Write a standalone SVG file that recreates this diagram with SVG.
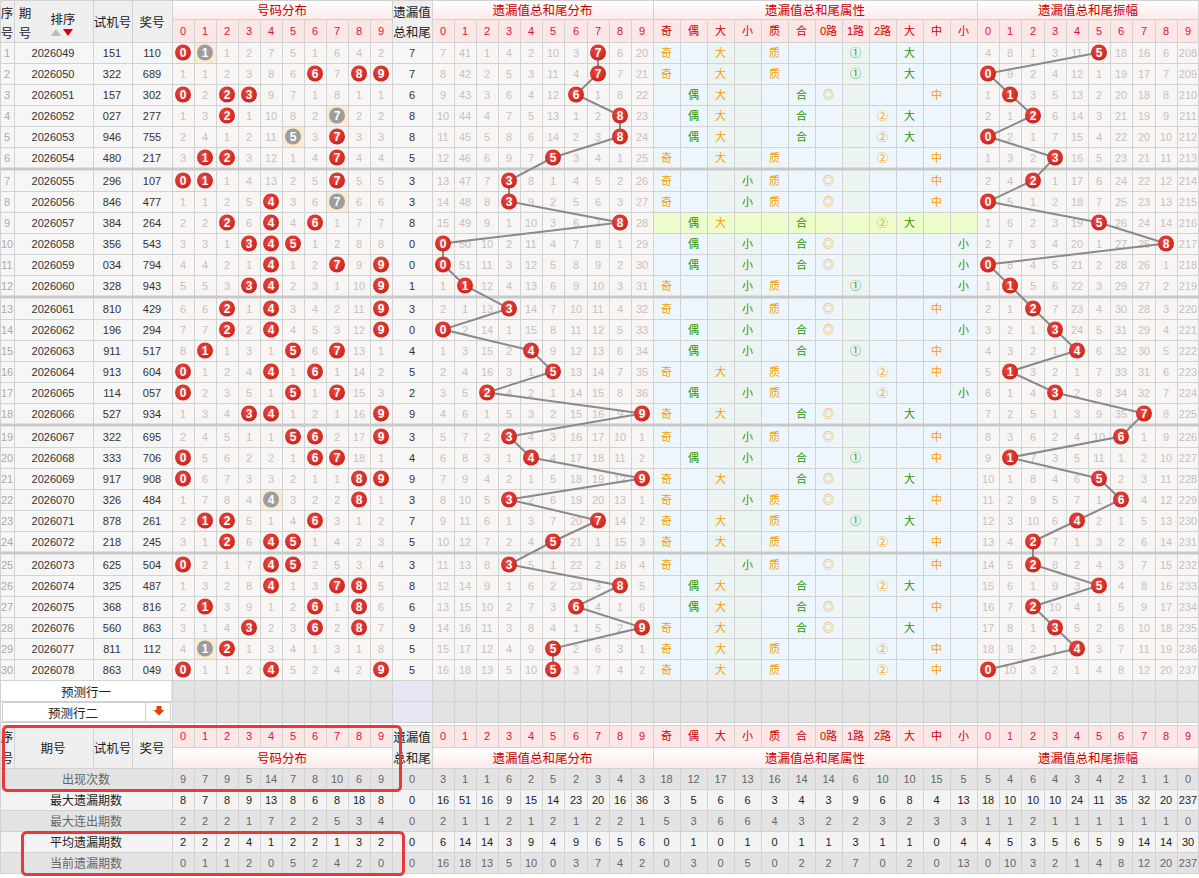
<svg xmlns="http://www.w3.org/2000/svg" xmlns:xlink="http://www.w3.org/1999/xlink" width="1199" height="878" viewBox="0 0 1199 878">
<style>
text{font-family:"Liberation Sans","Noto Sans CJK SC",sans-serif;font-size:11px;text-anchor:middle;dominant-baseline:central}
.c{font-family:"Noto Sans CJK SC",sans-serif;font-size:12px}
.h{fill:#cc0000;font-family:"Noto Sans CJK SC",sans-serif;font-size:12.5px}
.hd{fill:#e0103a;font-size:12px}
.k{fill:#222;font-family:"Noto Sans CJK SC",sans-serif;font-size:12.5px}
.s{fill:#aaa}
.m{fill:#cdbdbd}
.d{fill:#333}
.o{fill:#f5a000}
.g{fill:#2f9400}
.bt{fill:#fff;font-weight:bold;font-size:12px}
.rb{fill:url(#rg)}
.gb{fill:#9d9d9d}
.st1{fill:#666}
.st2{fill:#222}
.hl{fill:none;stroke:#e8383a;stroke-width:3}
.ln{fill:none;stroke:#8a8a8a;stroke-width:2}
.grid{fill:none;stroke:#d2d2d2;stroke-width:1}
.sep{fill:#c9c9c9}
</style>
<defs>
<linearGradient id="hg" x1="0" y1="0" x2="0" y2="1"><stop offset="0" stop-color="#ffffff"/><stop offset="1" stop-color="#fdeaea"/></linearGradient>
<radialGradient id="rg" cx="0.42" cy="0.38" r="0.7"><stop offset="0" stop-color="#ee4a3e"/><stop offset="1" stop-color="#c61f19"/></radialGradient>
<g id="B0"><circle r="8" class="rb"/><text class="bt">0</text></g>
<g id="B1"><circle r="8" class="rb"/><text class="bt">1</text></g>
<g id="B2"><circle r="8" class="rb"/><text class="bt">2</text></g>
<g id="B3"><circle r="8" class="rb"/><text class="bt">3</text></g>
<g id="B4"><circle r="8" class="rb"/><text class="bt">4</text></g>
<g id="B5"><circle r="8" class="rb"/><text class="bt">5</text></g>
<g id="B6"><circle r="8" class="rb"/><text class="bt">6</text></g>
<g id="B7"><circle r="8" class="rb"/><text class="bt">7</text></g>
<g id="B8"><circle r="8" class="rb"/><text class="bt">8</text></g>
<g id="B9"><circle r="8" class="rb"/><text class="bt">9</text></g>
<g id="G1"><circle r="8" class="gb"/><text class="bt">1</text></g>
<g id="G4"><circle r="8" class="gb"/><text class="bt">4</text></g>
<g id="G5"><circle r="8" class="gb"/><text class="bt">5</text></g>
<g id="G7"><circle r="8" class="gb"/><text class="bt">7</text></g>
<g id="a0" class="c"><text class="g" x="693.5">偶</text><text class="g" x="747.5">小</text><text class="g" x="801.5">合</text><text class="o" x="828.5">◎</text><text class="g" x="963.5">小</text></g>
<g id="a1" class="c"><text class="o" x="666.5">奇</text><text class="g" x="747.5">小</text><text class="o" x="774.5">质</text><text class="g" x="855.5">①</text><text class="g" x="963.5">小</text></g>
<g id="a2" class="c"><text class="g" x="693.5">偶</text><text class="g" x="747.5">小</text><text class="o" x="774.5">质</text><text class="o" x="882.5">②</text><text class="g" x="963.5">小</text></g>
<g id="a3" class="c"><text class="o" x="666.5">奇</text><text class="g" x="747.5">小</text><text class="o" x="774.5">质</text><text class="o" x="828.5">◎</text><text class="o" x="936.5">中</text></g>
<g id="a4" class="c"><text class="g" x="693.5">偶</text><text class="g" x="747.5">小</text><text class="g" x="801.5">合</text><text class="g" x="855.5">①</text><text class="o" x="936.5">中</text></g>
<g id="a5" class="c"><text class="o" x="666.5">奇</text><text class="o" x="720.5">大</text><text class="o" x="774.5">质</text><text class="o" x="882.5">②</text><text class="o" x="936.5">中</text></g>
<g id="a6" class="c"><text class="g" x="693.5">偶</text><text class="o" x="720.5">大</text><text class="g" x="801.5">合</text><text class="o" x="828.5">◎</text><text class="o" x="936.5">中</text></g>
<g id="a7" class="c"><text class="o" x="666.5">奇</text><text class="o" x="720.5">大</text><text class="o" x="774.5">质</text><text class="g" x="855.5">①</text><text class="g" x="909.5">大</text></g>
<g id="a8" class="c"><text class="g" x="693.5">偶</text><text class="o" x="720.5">大</text><text class="g" x="801.5">合</text><text class="o" x="882.5">②</text><text class="g" x="909.5">大</text></g>
<g id="a9" class="c"><text class="o" x="666.5">奇</text><text class="o" x="720.5">大</text><text class="g" x="801.5">合</text><text class="o" x="828.5">◎</text><text class="g" x="909.5">大</text></g>
</defs>
<rect width="1199" height="878" fill="#fff"/>
<g id="backgrounds">
<rect x="0" y="0" width="172" height="42" fill="#efefef"/>
<rect x="392" y="0" width="40" height="42" fill="#efefef"/>
<rect x="172" y="0" width="220" height="19" fill="url(#hg)"/>
<rect x="432" y="0" width="767" height="19" fill="url(#hg)"/>
<rect x="172" y="19" width="220" height="23" fill="#fce6e6"/>
<rect x="432" y="19" width="767" height="23" fill="#fce6e6"/>
<rect x="0" y="42" width="172" height="638" fill="#f6f6f6"/>
<rect x="172" y="42" width="220" height="638" fill="#f8f5f5"/>
<rect x="392" y="42" width="40" height="638" fill="#f6f6f6"/>
<rect x="432" y="42" width="221" height="638" fill="#f8f5f5"/>
<rect x="653" y="42" width="324" height="638" fill="#eef6fd"/>
<rect x="707" y="42" width="54" height="638" fill="#ebf4f2"/>
<rect x="842" y="42" width="27" height="638" fill="#ebf4f2"/>
<rect x="977" y="42" width="222" height="638" fill="#f8f5f5"/>
<rect x="653" y="212" width="324" height="21" fill="#edfccb"/>
<rect x="194" y="42" width="22" height="21" fill="#fcead3"/>
<rect x="326" y="105" width="22" height="21" fill="#fcead3"/>
<rect x="282" y="126" width="22" height="21" fill="#fcead3"/>
<rect x="326" y="191" width="22" height="21" fill="#fcead3"/>
<rect x="260" y="489" width="22" height="21" fill="#fcead3"/>
<rect x="194" y="638" width="22" height="21" fill="#fcead3"/>
<rect x="172" y="680" width="1027" height="42" fill="#e3e3e3"/>
<rect x="392" y="680" width="40" height="42" fill="#e5e5f6"/>
<rect x="0" y="725" width="172" height="43" fill="#efefef"/>
<rect x="392" y="725" width="40" height="43" fill="#efefef"/>
<rect x="172" y="725" width="220" height="22" fill="#fce6e6"/>
<rect x="432" y="725" width="767" height="22" fill="#fce6e6"/>
<rect x="172" y="747" width="220" height="21" fill="url(#hg)"/>
<rect x="432" y="747" width="767" height="21" fill="url(#hg)"/>
<rect x="0" y="768" width="1199" height="21" fill="#e3e3e3"/>
<rect x="0" y="789" width="1199" height="21" fill="#f3f3f3"/>
<rect x="0" y="810" width="1199" height="21" fill="#e3e3e3"/>
<rect x="0" y="831" width="1199" height="21" fill="#f3f3f3"/>
<rect x="0" y="852" width="1199" height="21" fill="#e3e3e3"/>
</g>
<path id="grid" class="grid" d="M0 .5H1199M0 42.5H1199M0 63.5H1199M0 84.5H1199M0 105.5H1199M0 126.5H1199M0 147.5H1199M0 191.5H1199M0 212.5H1199M0 233.5H1199M0 254.5H1199M0 275.5H1199M0 319.5H1199M0 340.5H1199M0 361.5H1199M0 382.5H1199M0 403.5H1199M0 447.5H1199M0 468.5H1199M0 489.5H1199M0 510.5H1199M0 531.5H1199M0 575.5H1199M0 596.5H1199M0 617.5H1199M0 638.5H1199M0 659.5H1199M0 680.5H1199M0 701.5H1199M0 722.5H1199M0 725.5H1199M0 768.5H1199M0 789.5H1199M0 810.5H1199M0 831.5H1199M0 852.5H1199M0 873.5H1199M172 19.5H392M432 19.5H1199M172 747.5H392M432 747.5H1199M.5 0V873M172.5 0V873M392.5 0V873M432.5 0V873M653.5 0V873M977.5 0V873M1198.5 0V873M14.5 0V680M93.5 0V680M132.5 0V680M14.5 725V768M93.5 725V768M132.5 725V768M194.5 19V747M194.5 768V873M216.5 19V747M216.5 768V873M238.5 19V747M238.5 768V873M260.5 19V747M260.5 768V873M282.5 19V747M282.5 768V873M304.5 19V747M304.5 768V873M326.5 19V747M326.5 768V873M348.5 19V747M348.5 768V873M370.5 19V747M370.5 768V873M454.5 19V747M454.5 768V873M476.5 19V747M476.5 768V873M498.5 19V747M498.5 768V873M520.5 19V747M520.5 768V873M542.5 19V747M542.5 768V873M564.5 19V747M564.5 768V873M587.5 19V747M587.5 768V873M609.5 19V747M609.5 768V873M631.5 19V747M631.5 768V873M680.5 19V747M680.5 768V873M707.5 19V747M707.5 768V873M734.5 19V747M734.5 768V873M761.5 19V747M761.5 768V873M788.5 19V747M788.5 768V873M815.5 19V747M815.5 768V873M842.5 19V747M842.5 768V873M869.5 19V747M869.5 768V873M896.5 19V747M896.5 768V873M923.5 19V747M923.5 768V873M950.5 19V747M950.5 768V873M999.5 19V747M999.5 768V873M1021.5 19V747M1021.5 768V873M1044.5 19V747M1044.5 768V873M1066.5 19V747M1066.5 768V873M1088.5 19V747M1088.5 768V873M1110.5 19V747M1110.5 768V873M1132.5 19V747M1132.5 768V873M1155.5 19V747M1155.5 768V873M1177.5 19V747M1177.5 768V873"/>
<g id="separators">
<rect class="sep" x="0" y="167.5" width="1199" height="3"/>
<rect class="sep" x="0" y="295.5" width="1199" height="3"/>
<rect class="sep" x="0" y="423.5" width="1199" height="3"/>
<rect class="sep" x="0" y="551.5" width="1199" height="3"/>
</g>
<g id="header">
<text class="k" x="7" y="12">序</text><text class="k" x="7" y="32">号</text>
<text class="k" x="25" y="12">期</text><text class="k" x="25" y="32">号</text>
<text class="k" x="63" y="18">排序</text>
<polygon points="51,36 61,36 56,29" fill="#bbb"/><polygon points="63,29 73,29 68,36" fill="#d00"/>
<text class="k" x="112.5" y="21">试机号</text><text class="k" x="152" y="21">奖号</text>
<text class="k" x="412" y="11">遗漏值</text><text class="k" x="412" y="31">总和尾</text>
<text class="h" x="282" y="9.5">号码分布</text>
<text class="h" x="542.5" y="9.5">遗漏值总和尾分布</text>
<text class="h" x="815" y="9.5">遗漏值总和尾属性</text>
<text class="h" x="1088" y="9.5">遗漏值总和尾振幅</text>
<g class="hd" transform="translate(0 30.5)"><text x="183">0</text><text x="205">1</text><text x="227">2</text><text x="249">3</text><text x="271">4</text><text x="293">5</text><text x="315">6</text><text x="337">7</text><text x="359">8</text><text x="381">9</text><text x="443">0</text><text x="465">1</text><text x="487">2</text><text x="509">3</text><text x="531">4</text><text x="553">5</text><text x="576">6</text><text x="598">7</text><text x="620">8</text><text x="642">9</text><text x="988">0</text><text x="1010">1</text><text x="1033">2</text><text x="1055">3</text><text x="1077">4</text><text x="1099">5</text><text x="1121">6</text><text x="1144">7</text><text x="1166">8</text><text x="1188">9</text></g>
<g class="h" transform="translate(0 30.5)"><text x="666.5">奇</text><text x="693.5">偶</text><text x="720.5">大</text><text x="747.5">小</text><text x="774.5">质</text><text x="801.5">合</text><text x="828.5">0路</text><text x="855.5">1路</text><text x="882.5">2路</text><text x="909.5">大</text><text x="936.5">中</text><text x="963.5">小</text></g>
</g>
<g id="rows">
<g id="r1" transform="translate(0 52.5)"><text class="s" x="7">1</text><text class="d" x="53">2026049</text><text class="d" x="112">151</text><text class="d" x="152">110</text><text class="d" x="412">7</text><g class="m"><text x="227">1</text><text x="249">2</text><text x="271">7</text><text x="293">5</text><text x="315">1</text><text x="337">6</text><text x="359">4</text><text x="381">2</text><text x="443">7</text><text x="465">41</text><text x="487">1</text><text x="509">4</text><text x="531">2</text><text x="553">10</text><text x="576">3</text><text x="620">6</text><text x="642">20</text><text x="988">4</text><text x="1010">8</text><text x="1033">1</text><text x="1055">3</text><text x="1077">11</text><text x="1121">18</text><text x="1144">16</text><text x="1166">6</text><text x="1188">208</text></g><use href="#a7"/></g>
<g id="r2" transform="translate(0 73.5)"><text class="s" x="7">2</text><text class="d" x="53">2026050</text><text class="d" x="112">322</text><text class="d" x="152">689</text><text class="d" x="412">7</text><g class="m"><text x="183">1</text><text x="205">1</text><text x="227">2</text><text x="249">3</text><text x="271">8</text><text x="293">6</text><text x="337">7</text><text x="443">8</text><text x="465">42</text><text x="487">2</text><text x="509">5</text><text x="531">3</text><text x="553">11</text><text x="576">4</text><text x="620">7</text><text x="642">21</text><text x="1010">9</text><text x="1033">2</text><text x="1055">4</text><text x="1077">12</text><text x="1099">1</text><text x="1121">19</text><text x="1144">17</text><text x="1166">7</text><text x="1188">209</text></g><use href="#a7"/></g>
<g id="r3" transform="translate(0 94.5)"><text class="s" x="7">3</text><text class="d" x="53">2026051</text><text class="d" x="112">157</text><text class="d" x="152">302</text><text class="d" x="412">6</text><g class="m"><text x="205">2</text><text x="271">9</text><text x="293">7</text><text x="315">1</text><text x="337">8</text><text x="359">1</text><text x="381">1</text><text x="443">9</text><text x="465">43</text><text x="487">3</text><text x="509">6</text><text x="531">4</text><text x="553">12</text><text x="598">1</text><text x="620">8</text><text x="642">22</text><text x="988">1</text><text x="1033">3</text><text x="1055">5</text><text x="1077">13</text><text x="1099">2</text><text x="1121">20</text><text x="1144">18</text><text x="1166">8</text><text x="1188">210</text></g><use href="#a6"/></g>
<g id="r4" transform="translate(0 115.5)"><text class="s" x="7">4</text><text class="d" x="53">2026052</text><text class="d" x="112">027</text><text class="d" x="152">277</text><text class="d" x="412">8</text><g class="m"><text x="183">1</text><text x="205">3</text><text x="249">1</text><text x="271">10</text><text x="293">8</text><text x="315">2</text><text x="359">2</text><text x="381">2</text><text x="443">10</text><text x="465">44</text><text x="487">4</text><text x="509">7</text><text x="531">5</text><text x="553">13</text><text x="576">1</text><text x="598">2</text><text x="642">23</text><text x="988">2</text><text x="1010">1</text><text x="1055">6</text><text x="1077">14</text><text x="1099">3</text><text x="1121">21</text><text x="1144">19</text><text x="1166">9</text><text x="1188">211</text></g><use href="#a8"/></g>
<g id="r5" transform="translate(0 136.5)"><text class="s" x="7">5</text><text class="d" x="53">2026053</text><text class="d" x="112">946</text><text class="d" x="152">755</text><text class="d" x="412">8</text><g class="m"><text x="183">2</text><text x="205">4</text><text x="227">1</text><text x="249">2</text><text x="271">11</text><text x="315">3</text><text x="359">3</text><text x="381">3</text><text x="443">11</text><text x="465">45</text><text x="487">5</text><text x="509">8</text><text x="531">6</text><text x="553">14</text><text x="576">2</text><text x="598">3</text><text x="642">24</text><text x="1010">2</text><text x="1033">1</text><text x="1055">7</text><text x="1077">15</text><text x="1099">4</text><text x="1121">22</text><text x="1144">20</text><text x="1166">10</text><text x="1188">212</text></g><use href="#a8"/></g>
<g id="r6" transform="translate(0 157.5)"><text class="s" x="7">6</text><text class="d" x="53">2026054</text><text class="d" x="112">480</text><text class="d" x="152">217</text><text class="d" x="412">5</text><g class="m"><text x="183">3</text><text x="249">3</text><text x="271">12</text><text x="293">1</text><text x="315">4</text><text x="359">4</text><text x="381">4</text><text x="443">12</text><text x="465">46</text><text x="487">6</text><text x="509">9</text><text x="531">7</text><text x="576">3</text><text x="598">4</text><text x="620">1</text><text x="642">25</text><text x="988">1</text><text x="1010">3</text><text x="1033">2</text><text x="1077">16</text><text x="1099">5</text><text x="1121">23</text><text x="1144">21</text><text x="1166">11</text><text x="1188">213</text></g><use href="#a5"/></g>
<g id="r7" transform="translate(0 180.5)"><text class="s" x="7">7</text><text class="d" x="53">2026055</text><text class="d" x="112">296</text><text class="d" x="152">107</text><text class="d" x="412">3</text><g class="m"><text x="227">1</text><text x="249">4</text><text x="271">13</text><text x="293">2</text><text x="315">5</text><text x="359">5</text><text x="381">5</text><text x="443">13</text><text x="465">47</text><text x="487">7</text><text x="531">8</text><text x="553">1</text><text x="576">4</text><text x="598">5</text><text x="620">2</text><text x="642">26</text><text x="988">2</text><text x="1010">4</text><text x="1055">1</text><text x="1077">17</text><text x="1099">6</text><text x="1121">24</text><text x="1144">22</text><text x="1166">12</text><text x="1188">214</text></g><use href="#a3"/></g>
<g id="r8" transform="translate(0 201.5)"><text class="s" x="7">8</text><text class="d" x="53">2026056</text><text class="d" x="112">846</text><text class="d" x="152">477</text><text class="d" x="412">3</text><g class="m"><text x="183">1</text><text x="205">1</text><text x="227">2</text><text x="249">5</text><text x="293">3</text><text x="315">6</text><text x="359">6</text><text x="381">6</text><text x="443">14</text><text x="465">48</text><text x="487">8</text><text x="531">9</text><text x="553">2</text><text x="576">5</text><text x="598">6</text><text x="620">3</text><text x="642">27</text><text x="1010">5</text><text x="1033">1</text><text x="1055">2</text><text x="1077">18</text><text x="1099">7</text><text x="1121">25</text><text x="1144">23</text><text x="1166">13</text><text x="1188">215</text></g><use href="#a3"/></g>
<g id="r9" transform="translate(0 222.5)"><text class="s" x="7">9</text><text class="d" x="53">2026057</text><text class="d" x="112">384</text><text class="d" x="152">264</text><text class="d" x="412">8</text><g class="m"><text x="183">2</text><text x="205">2</text><text x="249">6</text><text x="293">4</text><text x="337">1</text><text x="359">7</text><text x="381">7</text><text x="443">15</text><text x="465">49</text><text x="487">9</text><text x="509">1</text><text x="531">10</text><text x="553">3</text><text x="576">6</text><text x="598">7</text><text x="642">28</text><text x="988">1</text><text x="1010">6</text><text x="1033">2</text><text x="1055">3</text><text x="1077">19</text><text x="1121">26</text><text x="1144">24</text><text x="1166">14</text><text x="1188">216</text></g><use href="#a8"/></g>
<g id="r10" transform="translate(0 243.5)"><text class="s" x="7">10</text><text class="d" x="53">2026058</text><text class="d" x="112">356</text><text class="d" x="152">543</text><text class="d" x="412">0</text><g class="m"><text x="183">3</text><text x="205">3</text><text x="227">1</text><text x="315">1</text><text x="337">2</text><text x="359">8</text><text x="381">8</text><text x="465">50</text><text x="487">10</text><text x="509">2</text><text x="531">11</text><text x="553">4</text><text x="576">7</text><text x="598">8</text><text x="620">1</text><text x="642">29</text><text x="988">2</text><text x="1010">7</text><text x="1033">3</text><text x="1055">4</text><text x="1077">20</text><text x="1099">1</text><text x="1121">27</text><text x="1144">25</text><text x="1188">217</text></g><use href="#a0"/></g>
<g id="r11" transform="translate(0 264.5)"><text class="s" x="7">11</text><text class="d" x="53">2026059</text><text class="d" x="112">034</text><text class="d" x="152">794</text><text class="d" x="412">0</text><g class="m"><text x="183">4</text><text x="205">4</text><text x="227">2</text><text x="249">1</text><text x="293">1</text><text x="315">2</text><text x="359">9</text><text x="465">51</text><text x="487">11</text><text x="509">3</text><text x="531">12</text><text x="553">5</text><text x="576">8</text><text x="598">9</text><text x="620">2</text><text x="642">30</text><text x="1010">8</text><text x="1033">4</text><text x="1055">5</text><text x="1077">21</text><text x="1099">2</text><text x="1121">28</text><text x="1144">26</text><text x="1166">1</text><text x="1188">218</text></g><use href="#a0"/></g>
<g id="r12" transform="translate(0 285.5)"><text class="s" x="7">12</text><text class="d" x="53">2026060</text><text class="d" x="112">328</text><text class="d" x="152">943</text><text class="d" x="412">1</text><g class="m"><text x="183">5</text><text x="205">5</text><text x="227">3</text><text x="293">2</text><text x="315">3</text><text x="337">1</text><text x="359">10</text><text x="443">1</text><text x="487">12</text><text x="509">4</text><text x="531">13</text><text x="553">6</text><text x="576">9</text><text x="598">10</text><text x="620">3</text><text x="642">31</text><text x="988">1</text><text x="1033">5</text><text x="1055">6</text><text x="1077">22</text><text x="1099">3</text><text x="1121">29</text><text x="1144">27</text><text x="1166">2</text><text x="1188">219</text></g><use href="#a1"/></g>
<g id="r13" transform="translate(0 308.5)"><text class="s" x="7">13</text><text class="d" x="53">2026061</text><text class="d" x="112">810</text><text class="d" x="152">429</text><text class="d" x="412">3</text><g class="m"><text x="183">6</text><text x="205">6</text><text x="249">1</text><text x="293">3</text><text x="315">4</text><text x="337">2</text><text x="359">11</text><text x="443">2</text><text x="465">1</text><text x="487">13</text><text x="531">14</text><text x="553">7</text><text x="576">10</text><text x="598">11</text><text x="620">4</text><text x="642">32</text><text x="988">2</text><text x="1010">1</text><text x="1055">7</text><text x="1077">23</text><text x="1099">4</text><text x="1121">30</text><text x="1144">28</text><text x="1166">3</text><text x="1188">220</text></g><use href="#a3"/></g>
<g id="r14" transform="translate(0 329.5)"><text class="s" x="7">14</text><text class="d" x="53">2026062</text><text class="d" x="112">196</text><text class="d" x="152">294</text><text class="d" x="412">0</text><g class="m"><text x="183">7</text><text x="205">7</text><text x="249">2</text><text x="293">4</text><text x="315">5</text><text x="337">3</text><text x="359">12</text><text x="465">2</text><text x="487">14</text><text x="509">1</text><text x="531">15</text><text x="553">8</text><text x="576">11</text><text x="598">12</text><text x="620">5</text><text x="642">33</text><text x="988">3</text><text x="1010">2</text><text x="1033">1</text><text x="1077">24</text><text x="1099">5</text><text x="1121">31</text><text x="1144">29</text><text x="1166">4</text><text x="1188">221</text></g><use href="#a0"/></g>
<g id="r15" transform="translate(0 350.5)"><text class="s" x="7">15</text><text class="d" x="53">2026063</text><text class="d" x="112">911</text><text class="d" x="152">517</text><text class="d" x="412">4</text><g class="m"><text x="183">8</text><text x="227">1</text><text x="249">3</text><text x="271">1</text><text x="315">6</text><text x="359">13</text><text x="381">1</text><text x="443">1</text><text x="465">3</text><text x="487">15</text><text x="509">2</text><text x="553">9</text><text x="576">12</text><text x="598">13</text><text x="620">6</text><text x="642">34</text><text x="988">4</text><text x="1010">3</text><text x="1033">2</text><text x="1055">1</text><text x="1099">6</text><text x="1121">32</text><text x="1144">30</text><text x="1166">5</text><text x="1188">222</text></g><use href="#a4"/></g>
<g id="r16" transform="translate(0 371.5)"><text class="s" x="7">16</text><text class="d" x="53">2026064</text><text class="d" x="112">913</text><text class="d" x="152">604</text><text class="d" x="412">5</text><g class="m"><text x="205">1</text><text x="227">2</text><text x="249">4</text><text x="293">1</text><text x="337">1</text><text x="359">14</text><text x="381">2</text><text x="443">2</text><text x="465">4</text><text x="487">16</text><text x="509">3</text><text x="531">1</text><text x="576">13</text><text x="598">14</text><text x="620">7</text><text x="642">35</text><text x="988">5</text><text x="1033">3</text><text x="1055">2</text><text x="1077">1</text><text x="1099">7</text><text x="1121">33</text><text x="1144">31</text><text x="1166">6</text><text x="1188">223</text></g><use href="#a5"/></g>
<g id="r17" transform="translate(0 392.5)"><text class="s" x="7">17</text><text class="d" x="53">2026065</text><text class="d" x="112">114</text><text class="d" x="152">057</text><text class="d" x="412">2</text><g class="m"><text x="205">2</text><text x="227">3</text><text x="249">5</text><text x="271">1</text><text x="315">1</text><text x="359">15</text><text x="381">3</text><text x="443">3</text><text x="465">5</text><text x="509">4</text><text x="531">2</text><text x="553">1</text><text x="576">14</text><text x="598">15</text><text x="620">8</text><text x="642">36</text><text x="988">6</text><text x="1010">1</text><text x="1033">4</text><text x="1077">2</text><text x="1099">8</text><text x="1121">34</text><text x="1144">32</text><text x="1166">7</text><text x="1188">224</text></g><use href="#a2"/></g>
<g id="r18" transform="translate(0 413.5)"><text class="s" x="7">18</text><text class="d" x="53">2026066</text><text class="d" x="112">527</text><text class="d" x="152">934</text><text class="d" x="412">9</text><g class="m"><text x="183">1</text><text x="205">3</text><text x="227">4</text><text x="293">1</text><text x="315">2</text><text x="337">1</text><text x="359">16</text><text x="443">4</text><text x="465">6</text><text x="487">1</text><text x="509">5</text><text x="531">3</text><text x="553">2</text><text x="576">15</text><text x="598">16</text><text x="620">9</text><text x="988">7</text><text x="1010">2</text><text x="1033">5</text><text x="1055">1</text><text x="1077">3</text><text x="1099">9</text><text x="1121">35</text><text x="1166">8</text><text x="1188">225</text></g><use href="#a9"/></g>
<g id="r19" transform="translate(0 436.5)"><text class="s" x="7">19</text><text class="d" x="53">2026067</text><text class="d" x="112">322</text><text class="d" x="152">695</text><text class="d" x="412">3</text><g class="m"><text x="183">2</text><text x="205">4</text><text x="227">5</text><text x="249">1</text><text x="271">1</text><text x="337">2</text><text x="359">17</text><text x="443">5</text><text x="465">7</text><text x="487">2</text><text x="531">4</text><text x="553">3</text><text x="576">16</text><text x="598">17</text><text x="620">10</text><text x="642">1</text><text x="988">8</text><text x="1010">3</text><text x="1033">6</text><text x="1055">2</text><text x="1077">4</text><text x="1099">10</text><text x="1144">1</text><text x="1166">9</text><text x="1188">226</text></g><use href="#a3"/></g>
<g id="r20" transform="translate(0 457.5)"><text class="s" x="7">20</text><text class="d" x="53">2026068</text><text class="d" x="112">333</text><text class="d" x="152">706</text><text class="d" x="412">4</text><g class="m"><text x="205">5</text><text x="227">6</text><text x="249">2</text><text x="271">2</text><text x="293">1</text><text x="359">18</text><text x="381">1</text><text x="443">6</text><text x="465">8</text><text x="487">3</text><text x="509">1</text><text x="553">4</text><text x="576">17</text><text x="598">18</text><text x="620">11</text><text x="642">2</text><text x="988">9</text><text x="1033">7</text><text x="1055">3</text><text x="1077">5</text><text x="1099">11</text><text x="1121">1</text><text x="1144">2</text><text x="1166">10</text><text x="1188">227</text></g><use href="#a4"/></g>
<g id="r21" transform="translate(0 478.5)"><text class="s" x="7">21</text><text class="d" x="53">2026069</text><text class="d" x="112">917</text><text class="d" x="152">908</text><text class="d" x="412">9</text><g class="m"><text x="205">6</text><text x="227">7</text><text x="249">3</text><text x="271">3</text><text x="293">2</text><text x="315">1</text><text x="337">1</text><text x="443">7</text><text x="465">9</text><text x="487">4</text><text x="509">2</text><text x="531">1</text><text x="553">5</text><text x="576">18</text><text x="598">19</text><text x="620">12</text><text x="988">10</text><text x="1010">1</text><text x="1033">8</text><text x="1055">4</text><text x="1077">6</text><text x="1121">2</text><text x="1144">3</text><text x="1166">11</text><text x="1188">228</text></g><use href="#a9"/></g>
<g id="r22" transform="translate(0 499.5)"><text class="s" x="7">22</text><text class="d" x="53">2026070</text><text class="d" x="112">326</text><text class="d" x="152">484</text><text class="d" x="412">3</text><g class="m"><text x="183">1</text><text x="205">7</text><text x="227">8</text><text x="249">4</text><text x="293">3</text><text x="315">2</text><text x="337">2</text><text x="381">1</text><text x="443">8</text><text x="465">10</text><text x="487">5</text><text x="531">2</text><text x="553">6</text><text x="576">19</text><text x="598">20</text><text x="620">13</text><text x="642">1</text><text x="988">11</text><text x="1010">2</text><text x="1033">9</text><text x="1055">5</text><text x="1077">7</text><text x="1099">1</text><text x="1144">4</text><text x="1166">12</text><text x="1188">229</text></g><use href="#a3"/></g>
<g id="r23" transform="translate(0 520.5)"><text class="s" x="7">23</text><text class="d" x="53">2026071</text><text class="d" x="112">878</text><text class="d" x="152">261</text><text class="d" x="412">7</text><g class="m"><text x="183">2</text><text x="249">5</text><text x="271">1</text><text x="293">4</text><text x="337">3</text><text x="359">1</text><text x="381">2</text><text x="443">9</text><text x="465">11</text><text x="487">6</text><text x="509">1</text><text x="531">3</text><text x="553">7</text><text x="576">20</text><text x="620">14</text><text x="642">2</text><text x="988">12</text><text x="1010">3</text><text x="1033">10</text><text x="1055">6</text><text x="1099">2</text><text x="1121">1</text><text x="1144">5</text><text x="1166">13</text><text x="1188">230</text></g><use href="#a7"/></g>
<g id="r24" transform="translate(0 541.5)"><text class="s" x="7">24</text><text class="d" x="53">2026072</text><text class="d" x="112">218</text><text class="d" x="152">245</text><text class="d" x="412">5</text><g class="m"><text x="183">3</text><text x="205">1</text><text x="249">6</text><text x="315">1</text><text x="337">4</text><text x="359">2</text><text x="381">3</text><text x="443">10</text><text x="465">12</text><text x="487">7</text><text x="509">2</text><text x="531">4</text><text x="576">21</text><text x="598">1</text><text x="620">15</text><text x="642">3</text><text x="988">13</text><text x="1010">4</text><text x="1055">7</text><text x="1077">1</text><text x="1099">3</text><text x="1121">2</text><text x="1144">6</text><text x="1166">14</text><text x="1188">231</text></g><use href="#a5"/></g>
<g id="r25" transform="translate(0 564.5)"><text class="s" x="7">25</text><text class="d" x="53">2026073</text><text class="d" x="112">625</text><text class="d" x="152">504</text><text class="d" x="412">3</text><g class="m"><text x="205">2</text><text x="227">1</text><text x="249">7</text><text x="315">2</text><text x="337">5</text><text x="359">3</text><text x="381">4</text><text x="443">11</text><text x="465">13</text><text x="487">8</text><text x="531">5</text><text x="553">1</text><text x="576">22</text><text x="598">2</text><text x="620">16</text><text x="642">4</text><text x="988">14</text><text x="1010">5</text><text x="1055">8</text><text x="1077">2</text><text x="1099">4</text><text x="1121">3</text><text x="1144">7</text><text x="1166">15</text><text x="1188">232</text></g><use href="#a3"/></g>
<g id="r26" transform="translate(0 585.5)"><text class="s" x="7">26</text><text class="d" x="53">2026074</text><text class="d" x="112">325</text><text class="d" x="152">487</text><text class="d" x="412">8</text><g class="m"><text x="183">1</text><text x="205">3</text><text x="227">2</text><text x="249">8</text><text x="293">1</text><text x="315">3</text><text x="381">5</text><text x="443">12</text><text x="465">14</text><text x="487">9</text><text x="509">1</text><text x="531">6</text><text x="553">2</text><text x="576">23</text><text x="598">3</text><text x="642">5</text><text x="988">15</text><text x="1010">6</text><text x="1033">1</text><text x="1055">9</text><text x="1077">3</text><text x="1121">4</text><text x="1144">8</text><text x="1166">16</text><text x="1188">233</text></g><use href="#a8"/></g>
<g id="r27" transform="translate(0 606.5)"><text class="s" x="7">27</text><text class="d" x="53">2026075</text><text class="d" x="112">368</text><text class="d" x="152">816</text><text class="d" x="412">6</text><g class="m"><text x="183">2</text><text x="227">3</text><text x="249">9</text><text x="271">1</text><text x="293">2</text><text x="337">1</text><text x="381">6</text><text x="443">13</text><text x="465">15</text><text x="487">10</text><text x="509">2</text><text x="531">7</text><text x="553">3</text><text x="598">4</text><text x="620">1</text><text x="642">6</text><text x="988">16</text><text x="1010">7</text><text x="1055">10</text><text x="1077">4</text><text x="1099">1</text><text x="1121">5</text><text x="1144">9</text><text x="1166">17</text><text x="1188">234</text></g><use href="#a6"/></g>
<g id="r28" transform="translate(0 627.5)"><text class="s" x="7">28</text><text class="d" x="53">2026076</text><text class="d" x="112">560</text><text class="d" x="152">863</text><text class="d" x="412">9</text><g class="m"><text x="183">3</text><text x="205">1</text><text x="227">4</text><text x="271">2</text><text x="293">3</text><text x="337">2</text><text x="381">7</text><text x="443">14</text><text x="465">16</text><text x="487">11</text><text x="509">3</text><text x="531">8</text><text x="553">4</text><text x="576">1</text><text x="598">5</text><text x="620">2</text><text x="988">17</text><text x="1010">8</text><text x="1033">1</text><text x="1077">5</text><text x="1099">2</text><text x="1121">6</text><text x="1144">10</text><text x="1166">18</text><text x="1188">235</text></g><use href="#a9"/></g>
<g id="r29" transform="translate(0 648.5)"><text class="s" x="7">29</text><text class="d" x="53">2026077</text><text class="d" x="112">811</text><text class="d" x="152">112</text><text class="d" x="412">5</text><g class="m"><text x="183">4</text><text x="249">1</text><text x="271">3</text><text x="293">4</text><text x="315">1</text><text x="337">3</text><text x="359">1</text><text x="381">8</text><text x="443">15</text><text x="465">17</text><text x="487">12</text><text x="509">4</text><text x="531">9</text><text x="576">2</text><text x="598">6</text><text x="620">3</text><text x="642">1</text><text x="988">18</text><text x="1010">9</text><text x="1033">2</text><text x="1055">1</text><text x="1099">3</text><text x="1121">7</text><text x="1144">11</text><text x="1166">19</text><text x="1188">236</text></g><use href="#a5"/></g>
<g id="r30" transform="translate(0 669.5)"><text class="s" x="7">30</text><text class="d" x="53">2026078</text><text class="d" x="112">863</text><text class="d" x="152">049</text><text class="d" x="412">5</text><g class="m"><text x="205">1</text><text x="227">1</text><text x="249">2</text><text x="293">5</text><text x="315">2</text><text x="337">4</text><text x="359">2</text><text x="443">16</text><text x="465">18</text><text x="487">13</text><text x="509">5</text><text x="531">10</text><text x="576">3</text><text x="598">7</text><text x="620">4</text><text x="642">2</text><text x="1010">10</text><text x="1033">3</text><text x="1055">2</text><text x="1077">1</text><text x="1099">4</text><text x="1121">8</text><text x="1144">12</text><text x="1166">20</text><text x="1188">237</text></g><use href="#a5"/></g>
</g>
<g id="connectors">
<polyline class="ln" points="598,52.5 598,73.5 576,94.5 620,115.5 620,136.5 553,157.5 509,180.5 509,201.5 620,222.5 443,243.5 443,264.5 465,285.5 509,308.5 443,329.5 531,350.5 553,371.5 487,392.5 642,413.5 509,436.5 531,457.5 642,478.5 509,499.5 598,520.5 553,541.5 509,564.5 620,585.5 576,606.5 642,627.5 553,648.5 553,669.5"/>
<polyline class="ln" points="1099,52.5 988,73.5 1010,94.5 1033,115.5 988,136.5 1055,157.5 1033,180.5 988,201.5 1099,222.5 1166,243.5 988,264.5 1010,285.5 1033,308.5 1055,329.5 1077,350.5 1010,371.5 1055,392.5 1144,413.5 1121,436.5 1010,457.5 1099,478.5 1121,499.5 1077,520.5 1033,541.5 1033,564.5 1099,585.5 1033,606.5 1055,627.5 1077,648.5 988,669.5"/>
</g>
<g id="balls">
<g id="b1" transform="translate(0 52.5)"><use href="#B0" x="183"/><use href="#G1" x="205"/><use href="#B7" x="598"/><use href="#B5" x="1099"/></g>
<g id="b2" transform="translate(0 73.5)"><use href="#B6" x="315"/><use href="#B8" x="359"/><use href="#B9" x="381"/><use href="#B7" x="598"/><use href="#B0" x="988"/></g>
<g id="b3" transform="translate(0 94.5)"><use href="#B0" x="183"/><use href="#B2" x="227"/><use href="#B3" x="249"/><use href="#B6" x="576"/><use href="#B1" x="1010"/></g>
<g id="b4" transform="translate(0 115.5)"><use href="#B2" x="227"/><use href="#G7" x="337"/><use href="#B8" x="620"/><use href="#B2" x="1033"/></g>
<g id="b5" transform="translate(0 136.5)"><use href="#G5" x="293"/><use href="#B7" x="337"/><use href="#B8" x="620"/><use href="#B0" x="988"/></g>
<g id="b6" transform="translate(0 157.5)"><use href="#B1" x="205"/><use href="#B2" x="227"/><use href="#B7" x="337"/><use href="#B5" x="553"/><use href="#B3" x="1055"/></g>
<g id="b7" transform="translate(0 180.5)"><use href="#B0" x="183"/><use href="#B1" x="205"/><use href="#B7" x="337"/><use href="#B3" x="509"/><use href="#B2" x="1033"/></g>
<g id="b8" transform="translate(0 201.5)"><use href="#B4" x="271"/><use href="#G7" x="337"/><use href="#B3" x="509"/><use href="#B0" x="988"/></g>
<g id="b9" transform="translate(0 222.5)"><use href="#B2" x="227"/><use href="#B4" x="271"/><use href="#B6" x="315"/><use href="#B8" x="620"/><use href="#B5" x="1099"/></g>
<g id="b10" transform="translate(0 243.5)"><use href="#B3" x="249"/><use href="#B4" x="271"/><use href="#B5" x="293"/><use href="#B0" x="443"/><use href="#B8" x="1166"/></g>
<g id="b11" transform="translate(0 264.5)"><use href="#B4" x="271"/><use href="#B7" x="337"/><use href="#B9" x="381"/><use href="#B0" x="443"/><use href="#B0" x="988"/></g>
<g id="b12" transform="translate(0 285.5)"><use href="#B3" x="249"/><use href="#B4" x="271"/><use href="#B9" x="381"/><use href="#B1" x="465"/><use href="#B1" x="1010"/></g>
<g id="b13" transform="translate(0 308.5)"><use href="#B2" x="227"/><use href="#B4" x="271"/><use href="#B9" x="381"/><use href="#B3" x="509"/><use href="#B2" x="1033"/></g>
<g id="b14" transform="translate(0 329.5)"><use href="#B2" x="227"/><use href="#B4" x="271"/><use href="#B9" x="381"/><use href="#B0" x="443"/><use href="#B3" x="1055"/></g>
<g id="b15" transform="translate(0 350.5)"><use href="#B1" x="205"/><use href="#B5" x="293"/><use href="#B7" x="337"/><use href="#B4" x="531"/><use href="#B4" x="1077"/></g>
<g id="b16" transform="translate(0 371.5)"><use href="#B0" x="183"/><use href="#B4" x="271"/><use href="#B6" x="315"/><use href="#B5" x="553"/><use href="#B1" x="1010"/></g>
<g id="b17" transform="translate(0 392.5)"><use href="#B0" x="183"/><use href="#B5" x="293"/><use href="#B7" x="337"/><use href="#B2" x="487"/><use href="#B3" x="1055"/></g>
<g id="b18" transform="translate(0 413.5)"><use href="#B3" x="249"/><use href="#B4" x="271"/><use href="#B9" x="381"/><use href="#B9" x="642"/><use href="#B7" x="1144"/></g>
<g id="b19" transform="translate(0 436.5)"><use href="#B5" x="293"/><use href="#B6" x="315"/><use href="#B9" x="381"/><use href="#B3" x="509"/><use href="#B6" x="1121"/></g>
<g id="b20" transform="translate(0 457.5)"><use href="#B0" x="183"/><use href="#B6" x="315"/><use href="#B7" x="337"/><use href="#B4" x="531"/><use href="#B1" x="1010"/></g>
<g id="b21" transform="translate(0 478.5)"><use href="#B0" x="183"/><use href="#B8" x="359"/><use href="#B9" x="381"/><use href="#B9" x="642"/><use href="#B5" x="1099"/></g>
<g id="b22" transform="translate(0 499.5)"><use href="#G4" x="271"/><use href="#B8" x="359"/><use href="#B3" x="509"/><use href="#B6" x="1121"/></g>
<g id="b23" transform="translate(0 520.5)"><use href="#B1" x="205"/><use href="#B2" x="227"/><use href="#B6" x="315"/><use href="#B7" x="598"/><use href="#B4" x="1077"/></g>
<g id="b24" transform="translate(0 541.5)"><use href="#B2" x="227"/><use href="#B4" x="271"/><use href="#B5" x="293"/><use href="#B5" x="553"/><use href="#B2" x="1033"/></g>
<g id="b25" transform="translate(0 564.5)"><use href="#B0" x="183"/><use href="#B4" x="271"/><use href="#B5" x="293"/><use href="#B3" x="509"/><use href="#B2" x="1033"/></g>
<g id="b26" transform="translate(0 585.5)"><use href="#B4" x="271"/><use href="#B7" x="337"/><use href="#B8" x="359"/><use href="#B8" x="620"/><use href="#B5" x="1099"/></g>
<g id="b27" transform="translate(0 606.5)"><use href="#B1" x="205"/><use href="#B6" x="315"/><use href="#B8" x="359"/><use href="#B6" x="576"/><use href="#B2" x="1033"/></g>
<g id="b28" transform="translate(0 627.5)"><use href="#B3" x="249"/><use href="#B6" x="315"/><use href="#B8" x="359"/><use href="#B9" x="642"/><use href="#B3" x="1055"/></g>
<g id="b29" transform="translate(0 648.5)"><use href="#G1" x="205"/><use href="#B2" x="227"/><use href="#B5" x="553"/><use href="#B4" x="1077"/></g>
<g id="b30" transform="translate(0 669.5)"><use href="#B0" x="183"/><use href="#B4" x="271"/><use href="#B9" x="381"/><use href="#B5" x="553"/><use href="#B0" x="988"/></g>
</g>
<g id="predict">
<rect x="0.5" y="680.5" width="171.5" height="21" fill="#fff" stroke="#d2d2d2"/>
<text class="k" x="86" y="691">预测行一</text>
<rect x="2.5" y="702.5" width="143" height="19" fill="#fff" stroke="#cfcfcf"/>
<rect x="145.5" y="702.5" width="25" height="19" fill="#fff" stroke="#cfcfcf"/>
<text class="k" x="73" y="712">预测行二</text>
<path d="M156.5 706h5v4h3l-5.5 5.5-5.5-5.5h3z" fill="#e04400"/>
</g>
<g id="bottom-header">
<text class="k" x="7" y="736">序</text><text class="k" x="7" y="757">号</text>
<text class="k" x="53" y="747">期号</text><text class="k" x="112.5" y="747">试机号</text><text class="k" x="152" y="747">奖号</text>
<text class="k" x="412" y="736">遗漏值</text><text class="k" x="412" y="757">总和尾</text>
<g class="hd" transform="translate(0 736)"><text x="183">0</text><text x="205">1</text><text x="227">2</text><text x="249">3</text><text x="271">4</text><text x="293">5</text><text x="315">6</text><text x="337">7</text><text x="359">8</text><text x="381">9</text><text x="443">0</text><text x="465">1</text><text x="487">2</text><text x="509">3</text><text x="531">4</text><text x="553">5</text><text x="576">6</text><text x="598">7</text><text x="620">8</text><text x="642">9</text><text x="988">0</text><text x="1010">1</text><text x="1033">2</text><text x="1055">3</text><text x="1077">4</text><text x="1099">5</text><text x="1121">6</text><text x="1144">7</text><text x="1166">8</text><text x="1188">9</text></g>
<g class="h" transform="translate(0 736)"><text x="666.5">奇</text><text x="693.5">偶</text><text x="720.5">大</text><text x="747.5">小</text><text x="774.5">质</text><text x="801.5">合</text><text x="828.5">0路</text><text x="855.5">1路</text><text x="882.5">2路</text><text x="909.5">大</text><text x="936.5">中</text><text x="963.5">小</text></g>
<text class="h" x="282" y="757.5">号码分布</text>
<text class="h" x="542.5" y="757.5">遗漏值总和尾分布</text>
<text class="h" x="815" y="757.5">遗漏值总和尾属性</text>
<text class="h" x="1088" y="757.5">遗漏值总和尾振幅</text>
</g>
<g id="stats">
<g id="s1" class="st1" transform="translate(0 778.5)"><text class="c" x="86">出现次数</text><text x="183">9</text><text x="205">7</text><text x="227">9</text><text x="249">5</text><text x="271">14</text><text x="293">7</text><text x="315">8</text><text x="337">10</text><text x="359">6</text><text x="381">9</text><text x="412">0</text><text x="443">3</text><text x="465">1</text><text x="487">1</text><text x="509">6</text><text x="531">2</text><text x="553">5</text><text x="576">2</text><text x="598">3</text><text x="620">4</text><text x="642">3</text><text x="666.5">18</text><text x="693.5">12</text><text x="720.5">17</text><text x="747.5">13</text><text x="774.5">16</text><text x="801.5">14</text><text x="828.5">14</text><text x="855.5">6</text><text x="882.5">10</text><text x="909.5">10</text><text x="936.5">15</text><text x="963.5">5</text><text x="988">5</text><text x="1010">4</text><text x="1033">6</text><text x="1055">4</text><text x="1077">3</text><text x="1099">4</text><text x="1121">2</text><text x="1144">1</text><text x="1166">1</text><text x="1188">0</text></g>
<g id="s2" class="st2" transform="translate(0 799.5)"><text class="c" x="86">最大遗漏期数</text><text x="183">8</text><text x="205">7</text><text x="227">8</text><text x="249">9</text><text x="271">13</text><text x="293">8</text><text x="315">6</text><text x="337">8</text><text x="359">18</text><text x="381">8</text><text x="412">0</text><text x="443">16</text><text x="465">51</text><text x="487">16</text><text x="509">9</text><text x="531">15</text><text x="553">14</text><text x="576">23</text><text x="598">20</text><text x="620">16</text><text x="642">36</text><text x="666.5">3</text><text x="693.5">5</text><text x="720.5">6</text><text x="747.5">6</text><text x="774.5">3</text><text x="801.5">4</text><text x="828.5">3</text><text x="855.5">9</text><text x="882.5">6</text><text x="909.5">8</text><text x="936.5">4</text><text x="963.5">13</text><text x="988">18</text><text x="1010">10</text><text x="1033">10</text><text x="1055">10</text><text x="1077">24</text><text x="1099">11</text><text x="1121">35</text><text x="1144">32</text><text x="1166">20</text><text x="1188">237</text></g>
<g id="s3" class="st1" transform="translate(0 820.5)"><text class="c" x="86">最大连出期数</text><text x="183">2</text><text x="205">2</text><text x="227">2</text><text x="249">1</text><text x="271">7</text><text x="293">2</text><text x="315">2</text><text x="337">5</text><text x="359">3</text><text x="381">4</text><text x="412">0</text><text x="443">2</text><text x="465">1</text><text x="487">1</text><text x="509">2</text><text x="531">1</text><text x="553">2</text><text x="576">1</text><text x="598">2</text><text x="620">2</text><text x="642">1</text><text x="666.5">5</text><text x="693.5">3</text><text x="720.5">6</text><text x="747.5">6</text><text x="774.5">4</text><text x="801.5">3</text><text x="828.5">2</text><text x="855.5">2</text><text x="882.5">3</text><text x="909.5">2</text><text x="936.5">3</text><text x="963.5">3</text><text x="988">1</text><text x="1010">1</text><text x="1033">2</text><text x="1055">1</text><text x="1077">1</text><text x="1099">1</text><text x="1121">1</text><text x="1144">1</text><text x="1166">1</text><text x="1188">0</text></g>
<g id="s4" class="st2" transform="translate(0 841.5)"><text class="c" x="86">平均遗漏期数</text><text x="183">2</text><text x="205">2</text><text x="227">2</text><text x="249">4</text><text x="271">1</text><text x="293">2</text><text x="315">2</text><text x="337">1</text><text x="359">3</text><text x="381">2</text><text x="412">0</text><text x="443">6</text><text x="465">14</text><text x="487">14</text><text x="509">3</text><text x="531">9</text><text x="553">4</text><text x="576">9</text><text x="598">6</text><text x="620">5</text><text x="642">6</text><text x="666.5">0</text><text x="693.5">1</text><text x="720.5">0</text><text x="747.5">1</text><text x="774.5">0</text><text x="801.5">1</text><text x="828.5">1</text><text x="855.5">3</text><text x="882.5">1</text><text x="909.5">1</text><text x="936.5">0</text><text x="963.5">4</text><text x="988">4</text><text x="1010">5</text><text x="1033">3</text><text x="1055">5</text><text x="1077">6</text><text x="1099">5</text><text x="1121">9</text><text x="1144">14</text><text x="1166">14</text><text x="1188">30</text></g>
<g id="s5" class="st1" transform="translate(0 862.5)"><text class="c" x="86">当前遗漏期数</text><text x="183">0</text><text x="205">1</text><text x="227">1</text><text x="249">2</text><text x="271">0</text><text x="293">5</text><text x="315">2</text><text x="337">4</text><text x="359">2</text><text x="381">0</text><text x="412">0</text><text x="443">16</text><text x="465">18</text><text x="487">13</text><text x="509">5</text><text x="531">10</text><text x="553">0</text><text x="576">3</text><text x="598">7</text><text x="620">4</text><text x="642">2</text><text x="666.5">0</text><text x="693.5">3</text><text x="720.5">0</text><text x="747.5">5</text><text x="774.5">0</text><text x="801.5">2</text><text x="828.5">2</text><text x="855.5">7</text><text x="882.5">0</text><text x="909.5">2</text><text x="936.5">0</text><text x="963.5">13</text><text x="988">0</text><text x="1010">10</text><text x="1033">3</text><text x="1055">2</text><text x="1077">1</text><text x="1099">4</text><text x="1121">8</text><text x="1144">12</text><text x="1166">20</text><text x="1188">237</text></g>
</g>
<g id="highlights">
<rect class="hl" x="3.5" y="726.5" width="397" height="64" rx="4"/>
<rect class="hl" x="22.5" y="832.5" width="381" height="42" rx="4"/>
</g>
</svg>
